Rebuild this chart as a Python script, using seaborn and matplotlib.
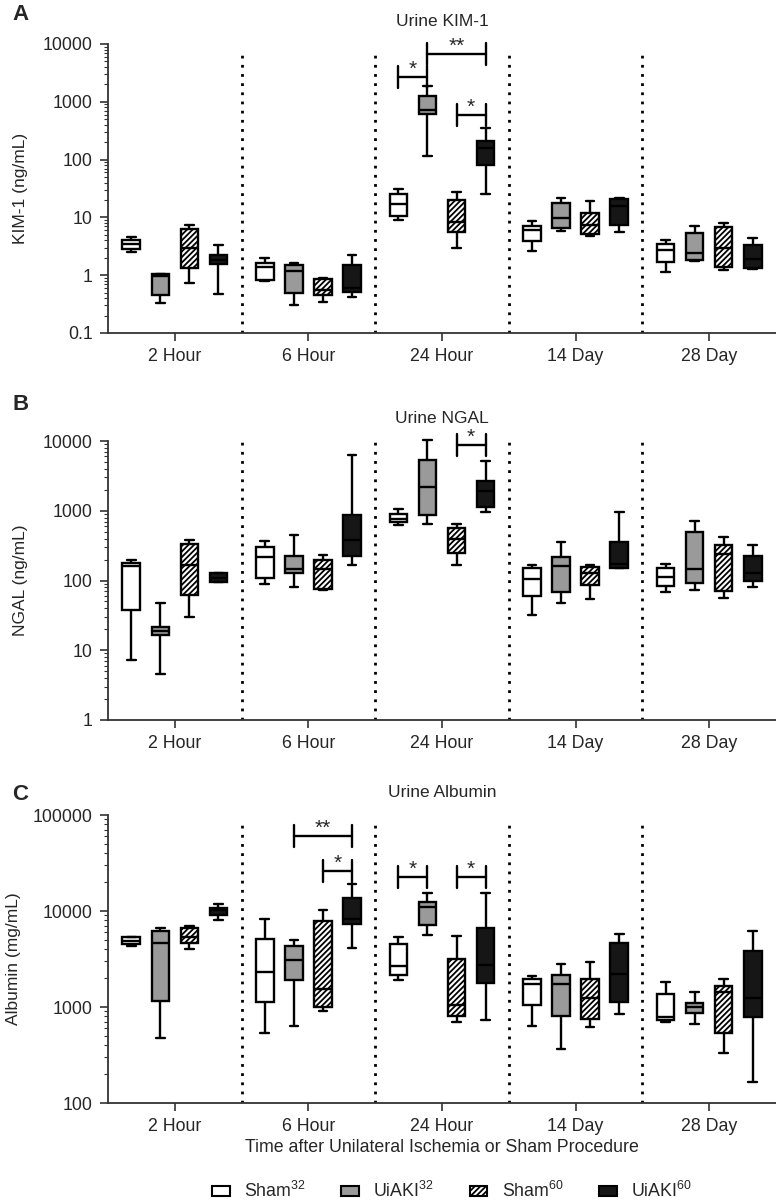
import numpy as np
import pandas as pd
import matplotlib
matplotlib.use('Agg')
import matplotlib.pyplot as plt
from matplotlib.patches import Patch
from matplotlib.colors import to_rgb
from matplotlib.ticker import LogLocator, FuncFormatter, NullFormatter
import seaborn as sns


times = ['2 Hour', '6 Hour', '24 Hour', '14 Day', '28 Day']
groups = ['Sham32', 'UiAKI32', 'Sham60', 'UiAKI60']
group_labels = ['Sham$^{32}$', 'UiAKI$^{32}$', 'Sham$^{60}$', 'UiAKI$^{60}$']

# five-number summaries: (min, q1, median, q3, max) per time point
kim1_sham32 = [(2.5, 2.8, 3.4, 4.1, 4.6), (0.8, 0.82, 1.4, 1.6, 2.0), (9.1, 10.7, 16.9, 25.8, 30.6),
               (2.6, 3.9, 6.1, 7.1, 8.5), (1.14, 1.7, 2.75, 3.5, 4.1)]
kim1_uiaki32 = [(0.33, 0.45, 0.95, 1.05, 1.07), (0.3, 0.5, 1.2, 1.5, 1.65), (114, 615, 735, 1260, 1860),
                (5.9, 6.6, 9.7, 17.6, 22), (1.75, 1.8, 2.4, 5.3, 7.2)]
kim1_sham60 = [(0.72, 1.35, 2.9, 6.2, 7.3), (0.35, 0.45, 0.55, 0.85, 0.9), (2.9, 5.7, 8.4, 19.8, 27.6),
               (4.7, 5.2, 7.5, 12, 19), (1.22, 1.39, 2.9, 6.9, 7.9)]
kim1_uiaki60 = [(0.47, 1.55, 1.8, 2.2, 3.3), (0.42, 0.52, 0.6, 1.5, 2.2), (25.8, 80, 158, 206, 358),
                (5.5, 7.5, 15.5, 21, 22), (1.3, 1.32, 1.9, 3.3, 4.4)]

ngal_sham32 = [(7.3, 38, 160, 180, 200), (88, 110, 220, 300, 370), (620, 680, 760, 900, 1050),
               (32, 60, 105, 150, 165), (69, 84, 113, 150, 175)]
ngal_uiaki32 = [(4.5, 16.5, 19, 21.5, 47), (80, 130, 148, 225, 450), (640, 870, 2200, 5300, 10500),
                (47, 69, 160, 214, 355), (74, 92, 148, 488, 705)]
ngal_sham60 = [(30, 62, 165, 330, 380), (72, 75, 145, 200, 230), (165, 250, 400, 560, 650),
               (55, 87, 130, 155, 165), (56, 71, 238, 320, 416)]
ngal_uiaki60 = [(95, 95.5, 110, 128, 128.5), (165, 225, 380, 880, 6200), (950, 1150, 1900, 2700, 5200),
                (150, 152, 173, 355, 970), (81, 100, 130, 228, 320)]

alb_sham32 = [(4350, 4500, 4900, 5300, 5400), (534, 1120, 2310, 5060, 8320), (1890, 2170, 2670, 4560, 5350),
              (627, 1060, 1750, 1970, 2080), (700, 730, 780, 1350, 1840)]
alb_uiaki32 = [(476, 1150, 4630, 6180, 6700), (641, 1920, 3110, 4280, 4940), (5660, 7090, 11000, 12400, 15500),
               (363, 815, 1750, 2130, 2820), (667, 863, 1000, 1098, 1450)]
alb_sham60 = [(4050, 4680, 5350, 6700, 6920), (906, 1000, 1550, 7860, 10320), (706, 800, 1040, 3130, 5480),
              (616, 754, 1240, 1970, 2930), (330, 535, 1430, 1670, 1950)]
alb_uiaki60 = [(8120, 9010, 10160, 10800, 11900), (4110, 7380, 8190, 13770, 18970), (740, 1770, 2750, 6650, 15540),
               (850, 1140, 2220, 4670, 5800), (165, 783, 1250, 3820, 6180)]

# significance brackets: (time index, group a, group b, height, label)
kim1_brackets = [(2, 0, 1, 2700, '*'), (2, 1, 3, 6700, '**'), (2, 2, 3, 600, '*')]
ngal_brackets = [(2, 2, 3, 8800, '*')]
alb_brackets = [(1, 1, 3, 60000, '**'), (1, 2, 3, 25900, '*'), (2, 0, 1, 22600, '*'), (2, 2, 3, 22600, '*')]

palette = {'Sham32': 'white', 'UiAKI32': '#9a9a9a', 'Sham60': '#fefefe', 'UiAKI60': '#161616'}
box_width = 0.87
slot = box_width / len(groups)
hatch = '//////'


def long_form(series):
    rows = []
    for group, summ in zip(groups, series):
        for t, five in zip(times, summ):
            for v in five:
                rows.append({'time': t, 'group': group, 'value': v})
    return pd.DataFrame(rows)


def draw_panel(ax, series, ylim, ylabel, title, brackets, dot_top, label_x):
    df = long_form(series)
    sns.boxplot(data=df, x='time', y='value', hue='group', order=times, hue_order=groups,
                palette=palette, saturation=1, width=box_width, gap=0.4, whis=(0, 100),
                linecolor='black', linewidth=1.7, log_scale=True, legend=False, ax=ax)
    for p in ax.patches:
        if np.allclose(p.get_facecolor()[:3], to_rgb('#fefefe')):
            p.set_facecolor('white')
            p.set_hatch(hatch)
        p.set_clip_on(False)
    for ln in ax.lines:
        ln.set_clip_on(False)

    ax.set_ylim(*ylim)
    ax.set_xlim(-0.5, len(times) - 0.5)
    for x in np.arange(len(times) - 1) + 0.5:
        ax.axvline(x, ymin=0, ymax=dot_top, color='black', lw=2, ls=(0, (1, 2.3)))

    # bracket end bars, ~11 px in data space
    bbox = ax.get_position()
    h_px = bbox.height * fig.get_figheight() * fig.dpi
    dpp = np.log10(ylim[1] / ylim[0]) / h_px
    for ti, ga, gb, y, lab in brackets:
        xa = ti + (ga - 1.5) * slot
        xb = ti + (gb - 1.5) * slot
        k = 10 ** (11 * dpp)
        ax.plot([xa, xb], [y, y], color='black', lw=1.7, clip_on=False)
        ax.plot([xa, xa], [y / k, y * k], color='black', lw=1.7, clip_on=False)
        ax.plot([xb, xb], [y / k, y * k], color='black', lw=1.7, clip_on=False)
        ax.text((xa + xb) / 2, y * 10 ** (-2 * dpp), lab, ha='center', va='bottom', fontsize=15)

    ax.yaxis.set_major_locator(LogLocator(base=10))
    ax.yaxis.set_minor_locator(LogLocator(base=10, subs=np.arange(2, 10)))
    ax.yaxis.set_major_formatter(FuncFormatter(lambda v, _: f'{v:g}'))
    ax.yaxis.set_minor_formatter(NullFormatter())
    ax.tick_params(axis='y', which='major', length=6, width=1.2, pad=5, labelsize=12.8, color='#333333')
    ax.tick_params(axis='y', which='minor', length=3, width=0.8, color='#333333')
    ax.tick_params(axis='x', length=6, width=1.2, pad=5, labelsize=12.8, color='#333333')
    sns.despine(ax=ax)
    for s in ['left', 'bottom']:
        ax.spines[s].set_color('#333333')
        ax.spines[s].set_linewidth(1.3)
    ax.set_xlabel('')
    ax.set_ylabel(ylabel, fontsize=12.5)
    ax.yaxis.set_label_coords(label_x, 0.5)
    ax.set_title(title, fontsize=12.5, pad=13)


sns.set_style('ticks')
plt.rcParams['font.family'] = ['Liberation Sans', 'DejaVu Sans']
plt.rcParams['mathtext.fontset'] = 'custom'
plt.rcParams['mathtext.rm'] = 'Liberation Sans'
plt.rcParams['hatch.linewidth'] = 1.3

W, H = 776, 1201
fig = plt.figure(figsize=(W / 100, H / 100), dpi=100)
left, right = 108 / W, 1.0
ax_a = fig.add_axes([left, 1 - 333 / H, right - left, 289 / H])
ax_b = fig.add_axes([left, 1 - 720 / H, right - left, 279 / H])
ax_c = fig.add_axes([left, 1 - 1103 / H, right - left, 288 / H])

draw_panel(ax_a, [kim1_sham32, kim1_uiaki32, kim1_sham60, kim1_uiaki60], (0.1, 10000),
           'KIM-1 (ng/mL)', 'Urine KIM-1', kim1_brackets, 0.962, -0.12)
draw_panel(ax_b, [ngal_sham32, ngal_uiaki32, ngal_sham60, ngal_uiaki60], (1, 10000),
           'NGAL (ng/mL)', 'Urine NGAL', ngal_brackets, 0.997, -0.12)
draw_panel(ax_c, [alb_sham32, alb_uiaki32, alb_sham60, alb_uiaki60], (100, 100000),
           'Albumin (mg/mL)', 'Urine Albumin', alb_brackets, 0.972, -0.13)
ax_c.set_xlabel('Time after Unilateral Ischemia or Sham Procedure', fontsize=12.8, labelpad=3)

for letter, ypx in zip('ABC', [15, 405, 795]):
    fig.text(12 / W, 1 - ypx / H, letter, fontsize=16, fontweight='bold', va='center', ha='left')

handles = []
for g in groups:
    handles.append(Patch(facecolor='white' if g == 'Sham60' else palette[g], edgecolor='black',
                         lw=1.5, hatch=hatch if g == 'Sham60' else None))
fig.legend(handles, group_labels, loc='center', bbox_to_anchor=(452 / W, 1 - 1191 / H), ncol=4,
           frameon=False, fontsize=12.8, handlelength=1.0, handleheight=0.5, handletextpad=0.8,
           columnspacing=2.0, borderaxespad=0, borderpad=0)

fig.savefig('out.png', dpi=100)
